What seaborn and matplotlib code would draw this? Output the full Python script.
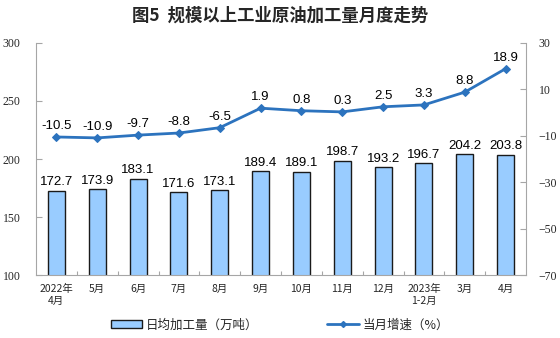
import matplotlib
matplotlib.use("Agg")
import matplotlib.pyplot as plt
import seaborn as sns
import pandas as pd
from matplotlib.patches import Patch
from matplotlib.lines import Line2D

categories = ["2022年\n4月", "5月", "6月", "7月", "8月", "9月", "10月", "11月", "12月", "2023年\n1-2月", "3月", "4月"]
daily_output = [172.7, 173.9, 183.1, 171.6, 173.1, 189.4, 189.1, 198.7, 193.2, 196.7, 204.2, 203.8]
growth = [-10.5, -10.9, -9.7, -8.8, -6.5, 1.9, 0.8, 0.3, 2.5, 3.3, 8.8, 18.9]
left_ticks = [100, 150, 200, 250, 300]
right_ticks = [-70, -50, -30, -10, 10, 30]

sns.set_theme(style="white")
plt.rcParams['font.family'] = ['Noto Sans CJK SC', 'DejaVu Sans']

df = pd.DataFrame({"cat": categories, "val": daily_output, "g": growth})

fig = plt.figure(figsize=(5.6, 3.38), dpi=100)
ax = fig.add_axes([0.0643, 0.186, 0.875, 0.687])

bar_color = "#99CCFF"
line_color = "#2C73BE"
spine_color = "#A6A6A6"

sns.barplot(data=df, x="cat", y="val", ax=ax, color=bar_color, width=0.42,
            edgecolor="#1A1A1A", linewidth=1.0, saturation=1)
ax.set_ylim(100, 300)
ax.set_yticks(left_ticks)
ax.set_xlim(-0.5, len(categories) - 0.5)
ax.set_xlabel("")
ax.set_ylabel("")

for i, v in enumerate(daily_output):
    ax.text(i, v + 2, f"{v:.1f}", ha="center", va="bottom", fontsize=9.5,
            family=["Liberation Sans"], color="#000000")

ax2 = ax.twinx()
sns.lineplot(data=df, x="cat", y="g", ax=ax2, color=line_color, linewidth=2,
             marker="D", markersize=4, markeredgecolor=line_color, sort=False)
ax2.set_ylim(-70, 30)
ax2.set_yticks(right_ticks)
ax2.set_ylabel("")
ax2.set_xlabel("")
for i, v in enumerate(growth):
    ax2.text(i, v + 2.2, f"{v}", ha="center", va="bottom", fontsize=9.5,
             family=["Liberation Sans"], color="#000000")

for a in (ax, ax2):
    a.spines["top"].set_visible(False)
    for s in ["left", "right", "bottom"]:
        a.spines[s].set_color(spine_color)
        a.spines[s].set_linewidth(0.8)

ax.spines["right"].set_visible(False)
ax2.spines["left"].set_visible(False)
ax2.spines["bottom"].set_visible(False)

ax.tick_params(axis="y", direction="in", length=4, color=spine_color, width=0.8,
               labelsize=8.5, pad=11, left=True)
ax2.tick_params(axis="y", direction="in", length=4, color=spine_color, width=0.8,
                labelsize=8.5, pad=9, right=True)
for lab in ax.get_yticklabels() + ax2.get_yticklabels():
    lab.set_family(["Liberation Serif"])

ax.set_xticks(range(len(categories)))
ax.set_xticklabels(categories, fontsize=7.5, linespacing=1.3)
ax.tick_params(axis="x", length=0, pad=6)
ax.set_xticks([i + 0.5 for i in range(len(categories) - 1)], minor=True)
ax.tick_params(axis="x", which="minor", direction="in", length=3, color=spine_color,
               width=0.8, bottom=True)

fig.text(0.5, 0.955, "图5  规模以上工业原油加工量月度走势", ha="center", va="center",
         fontsize=12.5, fontweight="bold")

handles = [Patch(facecolor=bar_color, edgecolor="#1A1A1A", linewidth=1.0),
           Line2D([0], [0], color=line_color, linewidth=2, marker="D", markersize=3)]
fig.legend(handles, ["日均加工量（万吨）", "当月增速（%）"], loc="center",
           bbox_to_anchor=(0.5, 0.038), ncol=2, frameon=False, fontsize=9,
           handlelength=2.5, handleheight=0.6, columnspacing=5.5, handletextpad=0.3)

fig.savefig("out.png", dpi=100)
